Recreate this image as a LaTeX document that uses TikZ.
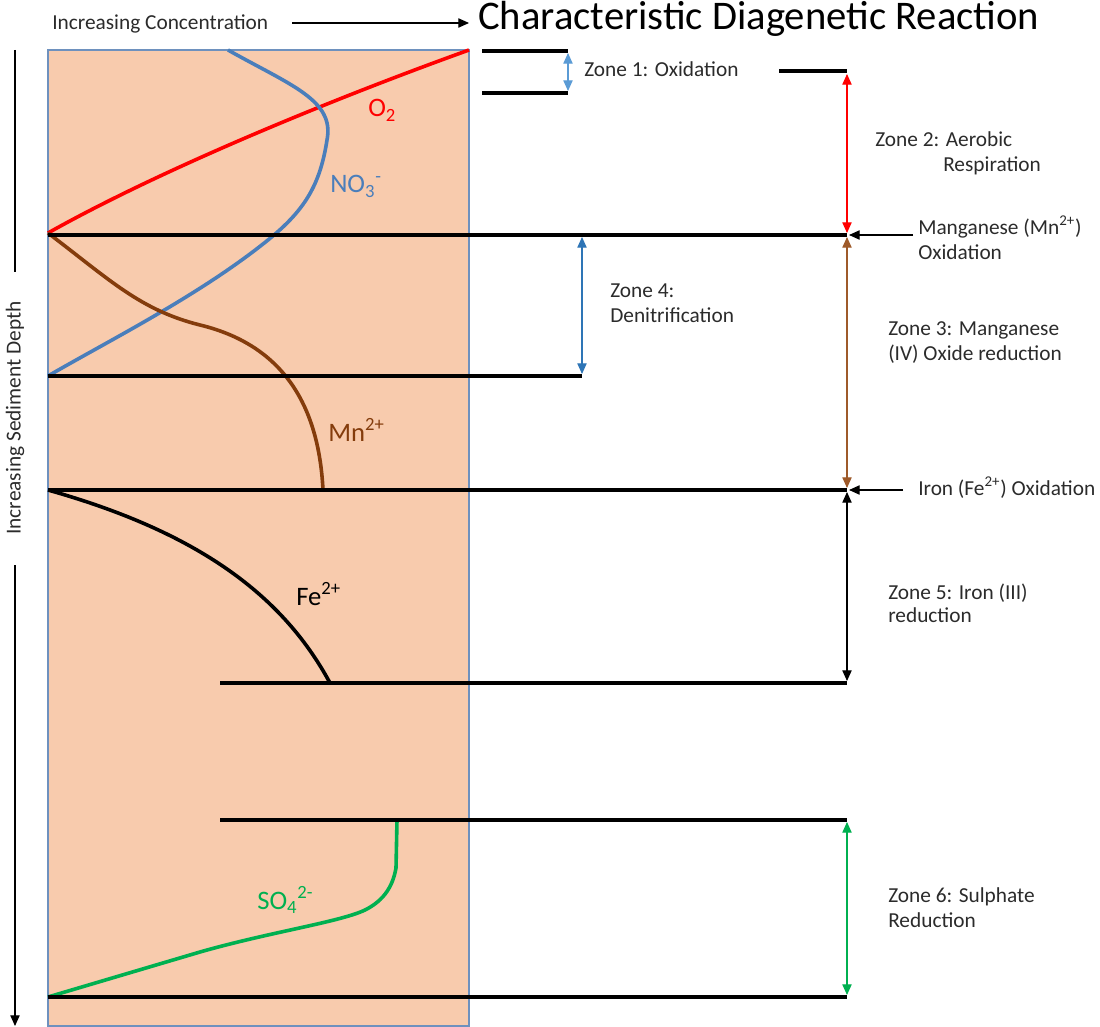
\documentclass[tikz,border=0pt]{standalone}
\usepackage{fontspec}
\setmainfont{Carlito}
\usetikzlibrary{arrows.meta}
\definecolor{peach}{HTML}{F8CBAD}
\definecolor{boxblue}{HTML}{6E91BE}
\definecolor{nblue}{HTML}{4A7EBB}
\definecolor{zonelb}{HTML}{5B9BD5}
\definecolor{zoneb}{HTML}{2E75B6}
\definecolor{mnbrown}{HTML}{843C0C}
\definecolor{arbrown}{HTML}{9E5A2A}
\definecolor{sogreen}{HTML}{00B050}
\definecolor{txt}{HTML}{2B2B2B}
\tikzset{
  zoneline/.style={line width=2.4pt, draw=black},
  curve/.style={line width=2.7pt},
  dbl/.style={line width=0.8pt, {Triangle[length=8pt,width=7pt]}-{Triangle[length=8pt,width=7pt]}},
  ptr/.style={line width=0.8pt, -{Triangle[length=8pt,width=7pt]}},
  lab/.style={anchor=base west, inner sep=0pt, font=\fontsize{16}{19}\selectfont, text=txt},
  chem/.style={anchor=base west, inner sep=0pt, font=\fontsize{20}{24}\selectfont}
}
\begin{document}
\begin{tikzpicture}[x=0.75pt,y=-0.75pt]
\useasboundingbox (0,0) rectangle (1100,1027);
% sediment column
\draw[fill=peach, draw=boxblue, line width=0.8pt] (48,50) rectangle (469,1026);

% concentration axis
\node[lab] (conc) at (52,30) {Increasing Concentration};
\coordinate (ca) at (292,23);
\coordinate (cb) at (469,23);
\draw[ptr] (ca) -- (cb);
\node[anchor=base west, inner sep=0pt, font=\fontsize{30.5}{36}\selectfont, text=black] (title) at (478,30) {Characteristic Diagenetic Reaction};

% depth axis
\node[inner sep=0pt, font=\fontsize{16}{19}\selectfont, text=txt, rotate=90] (depth) at (15,418) {Increasing Sediment Depth};
\coordinate (da) at (15,50);
\coordinate (db) at (15,272);
\coordinate (dc) at (15,565);
\coordinate (dd) at (15,1026);
\draw[line width=0.8pt] (da) -- (db);
\draw[ptr] (dc) -- (dd);

% curves
\coordinate (o2a) at (48,233);
\coordinate (o2b) at (469,50);
\draw[curve, red] (o2a) .. controls (160,170) and (330,100) .. (o2b);

\coordinate (no3a) at (228,50);
\coordinate (no3b) at (48,376);
\draw[curve, nblue] (no3a) .. controls (290,85) and (335,100) .. (327,140)
   .. controls (320,185) and (305,210) .. (268,240)
   .. controls (200,295) and (110,340) .. (no3b);

\coordinate (mna) at (48,233);
\coordinate (mnb) at (323,490);
\draw[curve, mnbrown] (mna) .. controls (110,280) and (140,310) .. (200,325)
   .. controls (270,342) and (318,390) .. (mnb);

\coordinate (fea) at (48,490);
\coordinate (feb) at (330,683);
\draw[curve, black] (fea) .. controls (190,530) and (280,590) .. (feb);

\coordinate (soa) at (48,997);
\coordinate (sob) at (397,820);
\draw[curve, sogreen] (soa) -- (200,952) .. controls (270,932) and (340,922) .. (365,910)
   .. controls (385,900) and (393,885) .. (396,868) -- (sob);

% chemical labels
\node[chem, text=red] (o2lab) at (368,117) {O\textsubscript{2}};
\node[chem, text=nblue] (no3lab) at (330,193) {NO\textsubscript{3}\textsuperscript{-}};
\node[chem, text=mnbrown] (mnlab) at (328,441) {Mn\textsuperscript{2+}};
\node[chem, text=black] (felab) at (296,605) {Fe\textsuperscript{2+}};
\node[chem, text=sogreen] (solab) at (257,909) {SO\textsubscript{4}\textsuperscript{2-}};

% zone boundary lines
\coordinate (z1ta) at (482,51);  \coordinate (z1tb) at (568,51);
\coordinate (z1ba) at (482,93);  \coordinate (z1bb) at (568,93);
\coordinate (z2ta) at (779,71);  \coordinate (z2tb) at (847,71);
\coordinate (l235a) at (48,235); \coordinate (l235b) at (847,235);
\coordinate (l376a) at (48,376); \coordinate (l376b) at (582,376);
\coordinate (l490a) at (48,490); \coordinate (l490b) at (847,490);
\coordinate (l683a) at (220,683); \coordinate (l683b) at (847,683);
\coordinate (l820a) at (220,820); \coordinate (l820b) at (847,820);
\coordinate (l997a) at (48,997); \coordinate (l997b) at (847,997);
\draw[zoneline] (z1ta) -- (z1tb);
\draw[zoneline] (z1ba) -- (z1bb);
\draw[zoneline] (z2ta) -- (z2tb);
\draw[zoneline] (l235a) -- (l235b);
\draw[zoneline] (l376a) -- (l376b);
\draw[zoneline] (l490a) -- (l490b);
\draw[zoneline] (l683a) -- (l683b);
\draw[zoneline] (l820a) -- (l820b);
\draw[zoneline] (l997a) -- (l997b);

% zone arrows
\coordinate (z1u) at (568,53);  \coordinate (z1d) at (568,91);
\draw[dbl, zonelb] (z1u) -- (z1d);
\coordinate (z2u) at (847,74);  \coordinate (z2d) at (847,233);
\draw[dbl, red] (z2u) -- (z2d);
\coordinate (z3u) at (847,237); \coordinate (z3d) at (847,488);
\draw[dbl, arbrown] (z3u) -- (z3d);
\coordinate (z4u) at (582,237); \coordinate (z4d) at (582,374);
\draw[dbl, zoneb] (z4u) -- (z4d);
\coordinate (z5u) at (847,492); \coordinate (z5d) at (847,681);
\draw[dbl, black] (z5u) -- (z5d);
\coordinate (z6u) at (847,822); \coordinate (z6d) at (847,995);
\draw[dbl, sogreen] (z6u) -- (z6d);

\coordinate (mnpa) at (913,235); \coordinate (mnpb) at (849,235);
\draw[ptr] (mnpa) -- (mnpb);
\coordinate (fepa) at (903,490); \coordinate (fepb) at (849,490);
\draw[ptr] (fepa) -- (fepb);

% zone labels
\node[lab] (z1lab) at (584,77) {Zone 1: Oxidation};
\node[lab] (z2lab) at (875,147) {Zone 2: Aerobic};
\node[lab] (z2labb) at (943,172) {Respiration};
\node[lab] (mnox) at (918,234) {Manganese (Mn\textsuperscript{2+})};
\node[lab] (mnoxb) at (918,259) {Oxidation};
\node[lab] (z4lab) at (610,297) {Zone 4:};
\node[lab] (z4labb) at (610,322) {Denitrification};
\node[lab] (z3lab) at (888,335) {Zone 3: Manganese};
\node[lab] (z3labb) at (888,360) {(IV) Oxide reduction};
\node[lab] (feox) at (918,495) {Iron (Fe\textsuperscript{2+}) Oxidation};
\node[lab] (z5lab) at (888,599) {Zone 5: Iron (III)};
\node[lab] (z5labb) at (888,622) {reduction};
\node[lab] (z6lab) at (888,902) {Zone 6: Sulphate};
\node[lab] (z6labb) at (888,927) {Reduction};
\end{tikzpicture}
\end{document}
